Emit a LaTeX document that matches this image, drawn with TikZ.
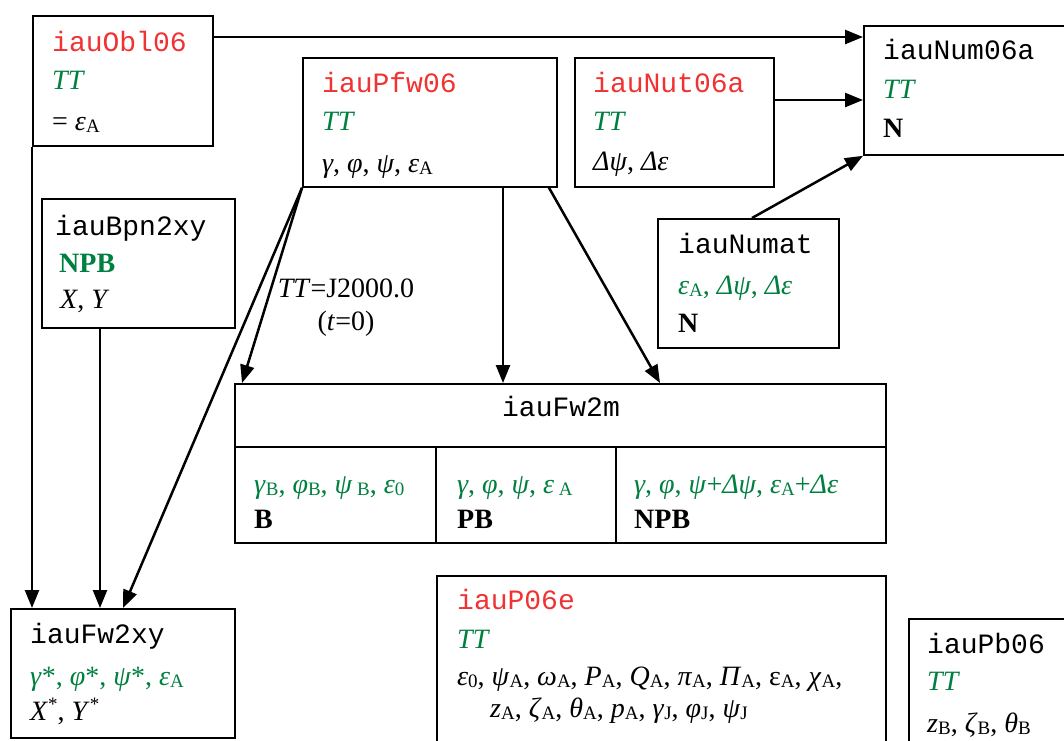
\documentclass[tikz,border=0pt]{standalone}
\usepackage{fontspec}
\setmainfont{Liberation Serif}
\setmonofont{Liberation Mono}
\usetikzlibrary{arrows.meta}
\definecolor{fred}{RGB}{240,50,50}
\definecolor{fgreen}{RGB}{0,128,64}
\newcommand\sbs[1]{\raisebox{-2pt}{\fontsize{19}{19}\selectfont #1}}
\newcommand\gi[1]{\textit{#1}}
\newcommand\sps[1]{\raisebox{10pt}{\fontsize{19}{19}\selectfont #1}}
\begin{document}
\begin{tikzpicture}[x=1pt,y=-1pt,
  font=\fontsize{28}{34}\selectfont,
  box/.style={draw, line width=1.8pt, rectangle, inner sep=0pt, anchor=north west},
  txt/.style={anchor=base west, inner sep=0pt},
  fname/.style={txt, font=\fontsize{28}{34}\selectfont\ttfamily},
  rname/.style={fname, text=fred},
  tt/.style={txt, text=fgreen, font=\fontsize{28}{34}\selectfont\itshape},
  arr/.style={line width=2.5pt, -{Triangle[length=18pt,width=14pt]}}]
\clip (0,0) rectangle (1064,740);
\fill[white] (0,0) rectangle (1064,740);

% boxes
\node[box, minimum width=180, minimum height=130] (obl) at (32,15) {};
\node[box, minimum width=254, minimum height=129] (pfw) at (302,57) {};
\node[box, minimum width=199, minimum height=129] (nut) at (574,57) {};
\node[box, minimum width=220, minimum height=129] (num) at (863,25) {};
\node[box, minimum width=181, minimum height=129] (numat) at (657,218) {};
\node[box, minimum width=193, minimum height=129] (bpn) at (41,198) {};
\node[box, minimum width=651, minimum height=159] (fwm) at (234,383) {};
\node[box, minimum width=449, minimum height=200] (p06e) at (436,575) {};
\node[box, minimum width=200, minimum height=200] (pb06) at (908,618) {};
\node[box, minimum width=224, minimum height=129] (fwxy) at (10,608) {};

% table lines of iauFw2m
\draw[line width=1.8pt] (fwm.west |- 0,447) -- (fwm.east |- 0,447);
\draw[line width=1.8pt] (fwm.south -| 436,0) -- (436,447);
\draw[line width=1.8pt] (fwm.south -| 616,0) -- (616,447);

% texts
\node[rname] (t1) at (52,51) {iauObl06};
\node[tt] (t2) at (52,89) {TT};
\node[txt] (t3) at (52,130) {= \gi{ε}\sbs{A}};

\node[rname] (t4) at (322,92) {iauPfw06};
\node[tt] (t5) at (322,130) {TT};
\node[txt] (t6) at (322,172) {\gi{γ}, \gi{φ}, \gi{ψ}, \gi{ε}\sbs{A}};

\node[rname] (t7) at (593,92) {iauNut06a};
\node[tt] (t8) at (593,130) {TT};
\node[txt] (t9) at (593,170) {\gi{Δψ}, \gi{Δε}};

\node[fname] (t10) at (883,59) {iauNum06a};
\node[tt] (t11) at (883,98) {TT};
\node[txt] (t12) at (883,137) {\textbf{N}};

\node[fname] (t13) at (678,253) {iauNumat};
\node[txt, text=fgreen] (t14) at (678,294) {\gi{ε}\sbs{A}, \gi{Δψ}, \gi{Δε}};
\node[txt] (t15) at (678,332) {\textbf{N}};

\node[fname] (t16) at (55,235) {iauBpn2xy};
\node[txt, text=fgreen] (t17) at (59,272) {\textbf{NPB}};
\node[txt] (t18) at (60,308) {\gi{X}, \gi{Y}};

\node[anchor=base, inner sep=0pt, font=\fontsize{28}{34}\selectfont\ttfamily] (t19) at (561,416) {iauFw2m};
\node[txt, text=fgreen] (t20) at (254,493) {\gi{γ}\sbs{B}, \gi{φ}\sbs{B}, \gi{ψ}\,\sbs{B}, \gi{ε}\sbs{0}};
\node[txt] (t21) at (254,528) {\textbf{B}};
\node[txt, text=fgreen] (t22) at (457,493) {\gi{γ}, \gi{φ}, \gi{ψ}, \gi{ε}\,\sbs{A}};
\node[txt] (t23) at (457,528) {\textbf{PB}};
\node[txt, text=fgreen] (t24) at (634,493) {\gi{γ}, \gi{φ}, \gi{ψ}+\gi{Δψ}, \gi{ε}\sbs{A}+\gi{Δε}};
\node[txt] (t25) at (634,528) {\textbf{NPB}};

\node[rname] (t26) at (457,609) {iauP06e};
\node[tt] (t27) at (457,648) {TT};
\node[txt] (t28) at (457,685) {\gi{ε}\sbs{0}, \gi{ψ}\sbs{A}, \gi{ω}\sbs{A}, \gi{P}\sbs{A}, \gi{Q}\sbs{A}, \gi{π}\sbs{A}, \gi{Π}\sbs{A}, ε\sbs{A}, \gi{χ}\sbs{A},};
\node[txt] (t29) at (490,717) {\gi{z}\sbs{A}, \gi{ζ}\sbs{A}, \gi{θ}\sbs{A}, \gi{p}\sbs{A}, \gi{γ}\sbs{J}, \gi{φ}\sbs{J}, \gi{ψ}\sbs{J}};

\node[fname] (t30) at (927,653) {iauPb06};
\node[tt] (t31) at (927,690) {TT};
\node[txt] (t32) at (927,732) {\gi{z}\sbs{B}, \gi{ζ}\sbs{B}, \gi{θ}\sbs{B}};

\node[fname] (t33) at (30,643) {iauFw2xy};
\node[txt, text=fgreen] (t34) at (30,685) {\gi{γ}*, \gi{φ}*, \gi{ψ}*, \gi{ε}\sbs{A}};
\node[txt] (t35) at (30,720) {\gi{X}\sps{*}, \gi{Y}\sps{*}};

\node[anchor=base, inner sep=0pt] (lab1) at (346,297) {\gi{TT}=J2000.0};
\node[anchor=base, inner sep=0pt] (lab2) at (346,330) {(\gi{t}=0)};

% connectors
\draw[arr] (obl.east |- 0,37) -- (num.west |- 0,37);
\draw[arr] (obl.south west) -- (obl.south west |- fwxy.north);
\draw[arr] (bpn.south -| 100,0) -- (fwxy.north -| 100,0);
\draw[arr] (pfw.south west) -- (fwxy.north -| 123,0);
\draw[arr] (pfw.south west) -- (fwm.north -| 242,0);
\draw[arr] (pfw.south -| 503,0) -- (fwm.north -| 503,0);
\draw[arr] (pfw.south -| 549,0) -- (fwm.north -| 660,0);
\draw[arr] (nut.east |- 0,100) -- (num.west |- 0,100);
\draw[arr] (numat.north -| 752,0) -- (num.south west);
\end{tikzpicture}
\end{document}
